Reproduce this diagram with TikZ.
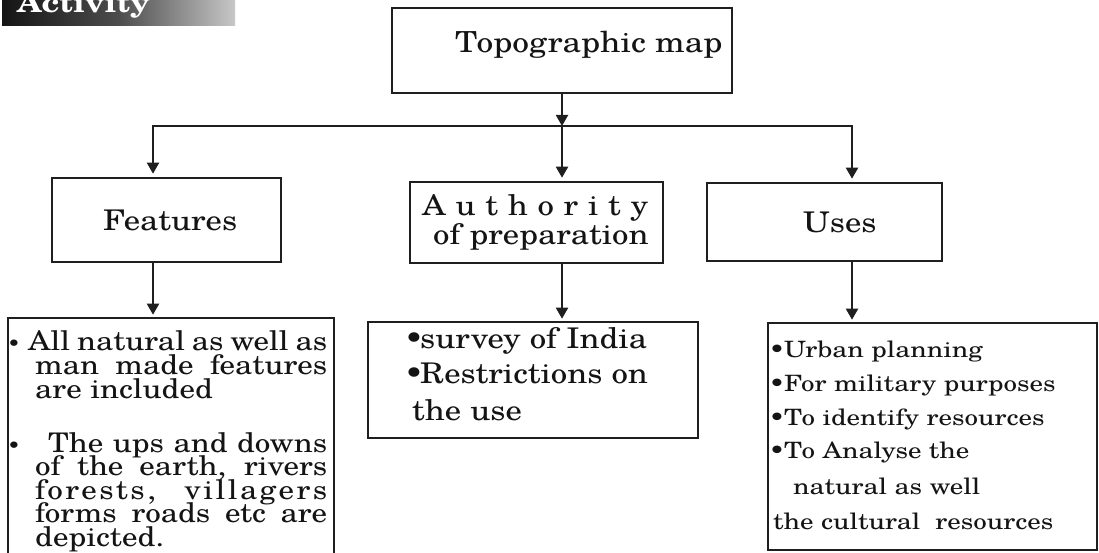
\documentclass[tikz,border=0pt]{standalone}
\usepackage{fontspec}
\IfFontExistsTF{TeX Gyre Schola}{%
  \setmainfont{TeX Gyre Schola}[FakeStretch=1.15]%
  \newfontfamily\widefont{TeX Gyre Schola}[FakeStretch=1.2]%
}{%
  \setmainfont{Liberation Serif}[FakeStretch=1.15]%
  \newfontfamily\widefont{Liberation Serif}[FakeStretch=1.2]%
}
\usetikzlibrary{arrows.meta}

\begin{document}
\begin{tikzpicture}[x=1pt,y=-1pt,
  box/.style={draw=black!88, line width=2.6pt, rectangle, inner sep=0pt},
  arr/.style={draw=black!88, line width=2pt, -{Triangle[width=12pt,length=11pt]}},
  txt/.style={inner sep=0pt, anchor=base west, text=black!92},
  dot/.style={inner sep=0pt, anchor=base, text=black!92},
  big/.style={font=\fontsize{28.5}{28.5}\selectfont},
  mid/.style={font=\fontsize{27}{27}\selectfont},
  middot/.style={font=\fontsize{19}{19}\selectfont},
  wide/.style={font=\widefont\fontsize{22.5}{22.5}\selectfont},
]
\useasboundingbox (0,0) rectangle (1099,553);
\clip (0,0) rectangle (1099,553);

% heading banner
\shade[left color=black!92, right color=black!22, middle color=black!70] (2,0) rectangle (235,26);
\node[txt, text=white, font=\bfseries\fontsize{28}{28}\selectfont] (act) at (17,13) {Activity};

% boxes
\node[box, minimum width=340pt, minimum height=85pt] (top)  at (562,50.5) {};
\node[box, minimum width=229pt, minimum height=84pt] (feat) at (166.5,220) {};
\node[box, minimum width=253pt, minimum height=81pt] (auth) at (536.5,222.5) {};
\node[box, minimum width=235pt, minimum height=78pt] (uses) at (824.5,222) {};
\node[box, minimum width=326pt, minimum height=262pt] (llow) at (171,449) {};
\node[box, minimum width=330pt, minimum height=116pt] (mlow) at (533,380) {};
\node[box, minimum width=329pt, minimum height=227pt] (rlow) at (932.5,436.5) {};

% branch points on the distribution line
\coordinate (jl) at (153,126);
\coordinate (jm) at (562,126);
\coordinate (jr) at (852,126);

% connectors
\draw[arr] (top.south) -- (jm);
\draw[arr, shorten >=3pt] (jm) -- (jl) -- (jl |- feat.north);
\draw[arr, shorten >=3pt] (jm) -- (jr) -- (jr |- uses.north);
\draw[arr, shorten >=3pt] (jm) -- (jm |- auth.north);
\draw[arr, shorten >=2pt] (jl |- feat.south) -- (jl |- llow.north);
\draw[arr, shorten >=2pt] (jm |- auth.south) -- (jm |- mlow.north);
\draw[arr, shorten >=2pt] (jr |- uses.south) -- (jr |- rlow.north);

% headings
\node[txt, font=\fontsize{29}{29}\selectfont] (ttop) at (455,53) {Topographic map};
\node[txt, big] (tfeat) at (103,231) {Features};
\node[txt, big] (tuses) at (803,233) {Uses};
\node[txt, big] (tauth1) at (422,215) {\makebox[226pt][s]{A u t h o r i t y}};
\node[txt, big] (tauth2) at (433,244) {of preparation};

% features list
\node[dot, middot] (lb1) at (14,350) {\textbullet};
\node[txt, mid] (l1) at (28,350) {\makebox[299pt][s]{All natural as well as}};
\node[txt, mid] (l2) at (35,374) {\makebox[292pt][s]{man made features}};
\node[txt, mid] (l3) at (35,398) {are included};
\node[dot, middot] (lb2) at (14,452) {\textbullet};
\node[txt, mid] (l4) at (48,452) {\makebox[279pt][s]{The ups and downs}};
\node[txt, mid] (l5) at (35,475.5) {\makebox[292pt][s]{of the earth, rivers}};
\node[txt, mid] (l6) at (35,499) {\addfontfeatures{LetterSpace=9}\makebox[292pt][s]{forests, villagers}};
\node[txt, mid] (l7) at (35,522.5) {\makebox[292pt][s]{forms roads etc are}};
\node[txt, mid] (l8) at (35,546) {depicted.};

% authority list
\node[dot, big] (mb1) at (414,348) {\textbullet};
\node[txt, big] (m1) at (420,348) {survey of India};
\node[dot, big] (mb2) at (414,383) {\textbullet};
\node[txt, big] (m2) at (420,383) {Restrictions on};
\node[txt, big] (m3) at (412,420) {the use};

% uses list
\node[dot, wide] (rb1) at (777,357) {\textbullet};
\node[txt, wide] (r1) at (784,357) {Urban planning};
\node[dot, wide] (rb2) at (777,391) {\textbullet};
\node[txt, wide] (r2) at (784,391) {For military purposes};
\node[dot, wide] (rb3) at (777,425) {\textbullet};
\node[txt, wide] (r3) at (784,425) {To identify resources};
\node[dot, wide] (rb4) at (777,458) {\textbullet};
\node[txt, wide] (r4) at (784,458) {To Analyse the};
\node[txt, wide] (r5) at (793,494) {natural as well};
\node[txt, wide] (r6) at (773,529) {the cultural\ \ resources};
\end{tikzpicture}
\end{document}
